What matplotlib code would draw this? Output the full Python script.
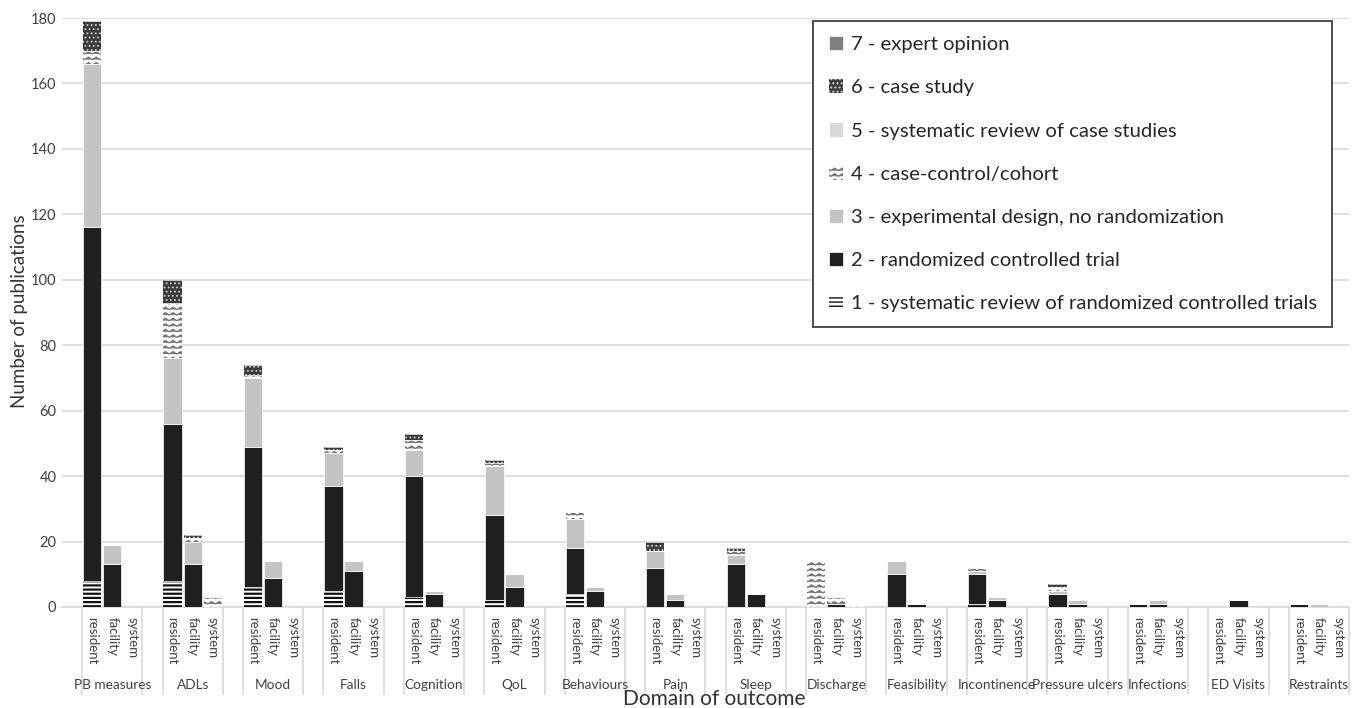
import warnings
import numpy as np
import matplotlib
matplotlib.use('Agg')
import matplotlib.pyplot as plt
import matplotlib.hatch as mhatch
import matplotlib.transforms as mtrans
from matplotlib.path import Path

warnings.filterwarnings('ignore')
plt.rcParams['font.family'] = ['Lato', 'DejaVu Sans']

domains = ['PB measures', 'ADLs', 'Mood', 'Falls', 'Cognition', 'QoL', 'Behaviours',
           'Pain', 'Sleep', 'Discharge', 'Feasibility', 'Incontinence',
           'Pressure ulcers', 'Infections', 'ED Visits', 'Restraints']
units = ['resident', 'facility', 'system']

# publications per domain as (resident, facility, system), one list per evidence level
lvl1 = [(8, 0, 0), (8, 0, 0), (6, 0, 0), (5, 0, 0), (3, 0, 0), (2, 0, 0), (4, 0, 0), (0, 0, 0),
        (0, 0, 0), (0, 0, 0), (0, 0, 0), (1, 0, 0), (0, 0, 0), (0, 0, 0), (0, 0, 0), (0, 0, 0)]
lvl2 = [(108, 13, 0), (48, 13, 0), (43, 9, 0), (32, 11, 0), (37, 4, 0), (26, 6, 0), (14, 5, 0), (12, 2, 0),
        (13, 4, 0), (0, 1, 0), (10, 1, 0), (9, 2, 0), (4, 1, 0), (1, 1, 0), (0, 2, 0), (1, 0, 0)]
lvl3 = [(50, 6, 0), (20, 7, 0), (21, 5, 0), (10, 3, 0), (8, 1, 0), (15, 4, 0), (9, 1, 0), (5, 2, 0),
        (3, 0, 0), (0, 0, 0), (4, 0, 0), (1, 1, 0), (1, 1, 0), (0, 1, 0), (0, 0, 0), (0, 1, 0)]
lvl4 = [(4, 0, 0), (17, 1, 3), (1, 0, 0), (1, 0, 0), (3, 0, 0), (1, 0, 0), (2, 0, 0), (0, 0, 0),
        (1, 0, 0), (14, 2, 1), (0, 0, 0), (1, 0, 0), (1, 0, 0), (0, 0, 0), (0, 0, 0), (0, 0, 0)]
lvl5 = [(0, 0, 0)] * 16
lvl6 = [(9, 0, 0), (7, 1, 0), (3, 0, 0), (1, 0, 0), (2, 0, 0), (1, 0, 0), (0, 0, 0), (3, 0, 0),
        (1, 0, 0), (0, 0, 0), (0, 0, 0), (0, 0, 0), (1, 0, 0), (0, 0, 0), (0, 0, 0), (0, 0, 0)]
lvl7 = [(0, 0, 0)] * 16

level_labels = ['1 - systematic review of randomized controlled trials',
                '2 - randomized controlled trial',
                '3 - experimental design, no randomization',
                '4 - case-control/cohort',
                '5 - systematic review of case studies',
                '6 - case study',
                '7 - expert opinion']


class ZigZagHatch(mhatch.HatchPatternBase):
    # wavy horizontal lines, used for the 'z' hatch character
    def __init__(self, hatch, density):
        self.num_rows = int(hatch.count('z') * density)
        self.num_periods = max(1, int(self.num_rows * 0.75))
        self.num_vertices = self.num_rows * (2 * self.num_periods + 1)

    def set_vertices_and_codes(self, vertices, codes):
        n = 2 * self.num_periods + 1
        xs = np.linspace(0, 1, n)
        step = 1.0 / self.num_rows
        offs = np.where(np.arange(n) % 2 == 0, -0.22 * step, 0.22 * step)
        for i in range(self.num_rows):
            sl = slice(i * n, (i + 1) * n)
            vertices[sl, 0] = xs
            vertices[sl, 1] = (i + 0.5) * step + offs
            codes[sl] = Path.LINETO
            codes[i * n] = Path.MOVETO


mhatch._hatch_types.append(ZigZagHatch)

# face, hatch colour, hatch, hatch linewidth
styles = [('white', '#111111', '----', 1.6),
          ('#1f1f1f', 'white', None, 0),
          ('#c4c4c4', 'white', None, 0),
          ('white', '#777777', 'zzz', 0.9),
          ('#d9d9d9', 'white', None, 0),
          ('#3a3a3a', '#d0d0d0', '....', 0.8),
          ('#7f7f7f', 'white', None, 0)]

levels = [lvl1, lvl2, lvl3, lvl4, lvl5, lvl6, lvl7]

x = np.array([4 * g + 1 + u for g in range(len(domains)) for u in range(3)])

fig = plt.figure(figsize=(13.58, 7.08), dpi=100)
ax = fig.add_axes([62 / 1358, 101 / 708, 1287 / 1358, 589 / 708])

bottom = np.zeros(len(x))
handles = []
for vals, (face, hc, hatch, hlw), lab in zip(levels, styles, level_labels):
    vals = np.array(vals).ravel()
    bars = ax.bar(x, vals, width=0.91, bottom=bottom, color=face, edgecolor=hc,
                  linewidth=0 if hatch else 0.5, hatch=hatch, label=lab, zorder=3)
    if hatch:
        for p in bars:
            if hasattr(p, 'set_hatch_linewidth'):
                p.set_hatch_linewidth(hlw)
    handles.append(bars)
    bottom = bottom + vals

ax.set_xlim(-0.5, 4 * len(domains) - 0.5)
ax.set_ylim(0, 180)
ax.set_yticks(range(0, 181, 20))
ax.yaxis.grid(True, color='#d9d9d9', lw=1.2, zorder=0)
ax.set_axisbelow(True)
for s in ['top', 'right', 'left']:
    ax.spines[s].set_visible(False)
ax.spines['bottom'].set_color('#d9d9d9')
ax.spines['bottom'].set_linewidth(1.2)

ax.set_xticks(x)
ax.set_xticklabels(units * len(domains), rotation=-90, fontsize=9.5, color='#404040')
ax.tick_params(axis='x', length=0, pad=7)
ax.tick_params(axis='y', length=0, pad=4, labelsize=10.5, labelcolor='#404040')

trans = mtrans.blended_transform_factory(ax.transData, ax.transAxes)
for g, name in enumerate(domains):
    for xb in (4 * g + 0.5, 4 * g + 3.5):
        ax.plot([xb, xb], [0, -0.147], transform=trans, color='#d9d9d9', lw=1.2,
                clip_on=False)
    ax.text(4 * g + 2, -0.133, name, transform=trans, ha='center', va='center',
            fontsize=9.8, color='#404040')

fig.text(20 / 1358, 0.56, 'Number of publications', rotation=90, ha='center',
         va='center', fontsize=13.5, color='#333333')
fig.text(0.526, 0.013, 'Domain of outcome', ha='center', va='center',
         fontsize=15, color='#333333')

leg = ax.legend(handles[::-1], level_labels[::-1], loc='upper right',
                bbox_to_anchor=(0.987, 0.995), borderaxespad=0, fancybox=False,
                fontsize=14.6, labelspacing=1.28, handlelength=0.7, handleheight=0.7,
                handletextpad=0.4, borderpad=0.75, framealpha=1)
leg.get_frame().set_edgecolor('#404040')
leg.get_frame().set_linewidth(1.3)
for t in leg.get_texts():
    t.set_color('#262626')

ax.set_xlim(-0.5, 4 * len(domains) - 0.5)
ax.set_ylim(0, 180)
fig.savefig('out.png', dpi=100)
